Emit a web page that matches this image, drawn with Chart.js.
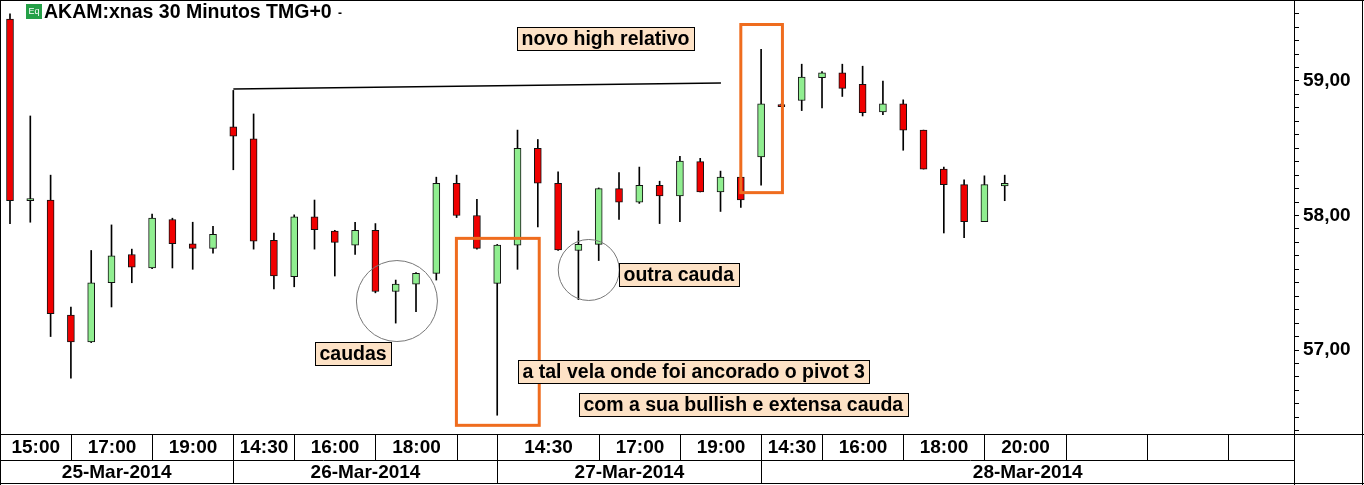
<!DOCTYPE html>
<html>
<head>
<meta charset="utf-8">
<script src="https://cdn.jsdelivr.net/npm/chart.js@4.4.1/dist/chart.umd.min.js"></script>
<style>
html, body { margin: 0; padding: 0; background: #fff; overflow: hidden; }
canvas { display: block; }
</style>
</head>
<body>
<canvas id="akamChart" width="1364" height="485"></canvas>
<script>
// AKAM:xnas, velas de 30 minutos, 25 a 28 de março de 2014
var opens  = [59.46, 58.11, 58.115, 57.26, 57.06, 57.50, 57.71, 57.61, 57.97, 57.79, 57.755,
              58.66, 58.57, 57.815, 57.545, 57.99, 57.885, 57.78, 57.89, 57.435, 57.49, 57.57, 58.24, 58.00,
              57.495, 57.78, 58.50, 58.24, 57.74, 57.785, 58.20, 58.10, 58.225, 58.145, 58.40, 58.175, 58.285,
              58.435, 58.825, 58.855, 59.025, 59.06, 58.975, 58.77, 58.83, 58.635, 58.345, 58.23, 57.955, 58.22];
var highs  = [59.50, 58.74, 58.30, 57.32, 57.74, 57.93, 57.75, 58.01, 57.98, 57.95, 57.92,
              58.93, 58.755, 57.87, 58.005, 58.115, 57.89, 57.95, 57.94, 57.52, 57.575, 58.285, 58.30, 58.12,
              57.785, 58.635, 58.565, 58.325, 57.885, 58.205, 58.32, 58.36, 58.255, 58.44, 58.425, 58.33, 58.29,
              59.235, 58.83, 59.125, 59.07, 59.125, 59.11, 59.00, 58.86, 58.635, 58.36, 58.265, 58.295, 58.30];
var lows   = [57.94, 57.95, 57.10, 56.79, 57.055, 57.32, 57.50, 57.605, 57.61, 57.60, 57.72,
              58.34, 57.75, 57.455, 57.47, 57.75, 57.55, 57.71, 57.425, 57.20, 57.285, 57.52, 57.985, 57.75,
              56.515, 57.60, 57.915, 57.74, 57.375, 57.665, 57.97, 58.09, 57.94, 57.955, 58.175, 58.03, 58.06,
              58.225, 58.81, 58.78, 58.80, 58.885, 58.74, 58.75, 58.485, 58.345, 57.87, 57.835, 57.955, 58.11];
var closes = [58.11, 58.125, 57.27, 57.06, 57.50, 57.70, 57.615, 57.98, 57.79, 57.755, 57.86,
              58.59, 57.81, 57.55, 57.99, 57.895, 57.80, 57.89, 57.435, 57.49, 57.57, 58.24, 58.00, 57.755,
              57.78, 58.50, 58.24, 57.745, 57.785, 58.20, 58.10, 58.225, 58.145, 58.405, 58.175, 58.285, 58.115,
              58.83, 58.81, 59.03, 59.06, 58.945, 58.765, 58.83, 58.635, 58.345, 58.23, 57.955, 58.23, 58.24];

// eixo do tempo: separadores (índice da vela) e rótulos de cada célula
var timeEdges  = [3, 7, 11, 14, 18, 22, 24, 29, 33, 37, 40, 44, 48, 52, 56, 60];
var timeLabels = ['15:00', '17:00', '19:00', '14:30', '16:00', '18:00', '', '14:30', '17:00', '19:00',
                  '14:30', '16:00', '18:00', '20:00', '', '', ''];
var dayEdges   = [11, 24, 37];
var dayLabels  = ['25-Mar-2014', '26-Mar-2014', '27-Mar-2014', '28-Mar-2014'];

// anotações (índice da vela, preço)
var notes = [
    { text: 'novo high relativo', i: 24.98, p: 59.401 },
    { text: 'caudas', i: 15.02, p: 57.06 },
    { text: 'outra cauda', i: 30.0, p: 57.647 },
    { text: 'a tal vela onde foi ancorado o pivot 3', i: 25.02, p: 56.929 },
    { text: 'com a sua bullish e extensa cauda', i: 28.03, p: 56.677 }
];
var orangeBoxes = [
    { i0: 21.99, p0: 57.83, i1: 26.07, p1: 56.44 },
    { i0: 36.0, p0: 59.42, i1: 38.05, p1: 58.17 }
];
var circles = [
    { i: 19.06, p: 57.364, r: 40.5 },
    { i: 28.51, p: 57.595, r: 30.5 }
];
var highLine = { i0: 11, p0: 58.94, i1: 35.02, p1: 58.985 };

var FONT = "'Liberation Sans', Arial, sans-serif";

var bodies = [], wicks = [], bodyColors = [];
for (var k = 0; k < opens.length; k++) {
    bodies.push({ x: k, y: [opens[k], closes[k]] });
    wicks.push({ x: k, y: [lows[k], highs[k]] });
    bodyColors.push(closes[k] >= opens[k] ? '#90ee90' : '#f00000');
}

var decor = {
    id: 'decor',
    afterDatasetsDraw: function(chart) {
        var ctx = chart.ctx, xs = chart.scales.x, ys = chart.scales.y;
        ctx.save();

        // linha do high
        ctx.strokeStyle = '#000';
        ctx.lineWidth = 1.5;
        ctx.beginPath();
        ctx.moveTo(xs.getPixelForValue(highLine.i0), ys.getPixelForValue(highLine.p0));
        ctx.lineTo(xs.getPixelForValue(highLine.i1), ys.getPixelForValue(highLine.p1));
        ctx.stroke();

        // círculos
        ctx.strokeStyle = '#777';
        ctx.lineWidth = 1;
        circles.forEach(function(c) {
            ctx.beginPath();
            ctx.arc(xs.getPixelForValue(c.i), ys.getPixelForValue(c.p), c.r, 0, Math.PI * 2);
            ctx.stroke();
        });

        // retângulos laranja
        ctx.strokeStyle = '#ef6c1e';
        ctx.lineWidth = 3;
        orangeBoxes.forEach(function(b) {
            var x0 = xs.getPixelForValue(b.i0), y0 = ys.getPixelForValue(b.p0);
            var x1 = xs.getPixelForValue(b.i1), y1 = ys.getPixelForValue(b.p1);
            ctx.strokeRect(x0, y0, x1 - x0, y1 - y0);
        });

        // caixas de texto
        ctx.font = 'bold 19.5px ' + FONT;
        ctx.textBaseline = 'middle';
        ctx.textAlign = 'left';
        notes.forEach(function(n) {
            var bx = Math.round(xs.getPixelForValue(n.i)) + 0.5;
            var by = Math.round(ys.getPixelForValue(n.p)) + 0.5;
            var w = Math.round(ctx.measureText(n.text).width) + 9;
            ctx.fillStyle = '#fde2c6';
            ctx.fillRect(bx, by, w, 23);
            ctx.strokeStyle = '#000';
            ctx.lineWidth = 1;
            ctx.strokeRect(bx, by, w, 23);
            ctx.fillStyle = '#000';
            ctx.fillText(n.text, bx + 4, by + 12.5);
        });
        ctx.restore();
    },
    afterDraw: function(chart) {
        var ctx = chart.ctx, xs = chart.scales.x, area = chart.chartArea;
        var W = chart.width, H = chart.height;
        var top = area.bottom, mid = area.bottom + 26, bot = H - 1;
        ctx.save();
        ctx.strokeStyle = '#000';
        ctx.lineWidth = 1;

        function line(x0, y0, x1, y1) {
            ctx.beginPath();
            ctx.moveTo(x0, y0);
            ctx.lineTo(x1, y1);
            ctx.stroke();
        }
        // moldura
        line(0, 0.5, W, 0.5);
        line(0.5, 0, 0.5, H);
        line(W - 1.5, 0, W - 1.5, H);
        line(0, top + 0.5, W, top + 0.5);
        line(0, mid + 0.5, area.right, mid + 0.5);
        line(0, bot - 0.5, W, bot - 0.5);
        line(area.right + 0.5, 0, area.right + 0.5, H);

        ctx.fillStyle = '#000';
        ctx.font = 'bold 19px ' + FONT;
        ctx.textAlign = 'center';
        ctx.textBaseline = 'middle';

        // linha das horas
        var edges = [area.left].concat(timeEdges.map(function(e) {
            return Math.round(xs.getPixelForValue(e)) + 0.5;
        })).concat([area.right]);
        for (var j = 1; j < edges.length - 1; j++) line(edges[j], top, edges[j], mid);
        for (j = 0; j < timeLabels.length; j++) {
            if (timeLabels[j]) ctx.fillText(timeLabels[j], (edges[j] + edges[j + 1]) / 2, top + 14);
        }

        // linha dos dias
        var dEdges = [area.left].concat(dayEdges.map(function(e) {
            return Math.round(xs.getPixelForValue(e)) + 0.5;
        })).concat([area.right]);
        for (j = 1; j < dEdges.length - 1; j++) line(dEdges[j], mid, dEdges[j], bot);
        for (j = 0; j < dayLabels.length; j++) {
            ctx.fillText(dayLabels[j], (dEdges[j] + dEdges[j + 1]) / 2, mid + 13);
        }

        // título
        ctx.fillStyle = '#24a047';
        ctx.fillRect(26, 4, 16, 15);
        ctx.fillStyle = '#fff';
        ctx.font = '9px ' + FONT;
        ctx.fillText('Eq', 34, 11.5);
        ctx.fillStyle = '#000';
        ctx.textAlign = 'left';
        ctx.font = 'bold 19.5px ' + FONT;
        ctx.fillText('AKAM:xnas 30 Minutos TMG+0', 44, 13);
        ctx.font = 'bold 12px ' + FONT;
        ctx.fillText('-', 338, 14);
        ctx.restore();
    }
};

new Chart(document.getElementById('akamChart').getContext('2d'), {
    type: 'bar',
    data: {
        datasets: [{
            label: 'corpo',
            data: bodies,
            backgroundColor: bodyColors,
            borderColor: '#111',
            borderWidth: 1,
            borderSkipped: false,
            barThickness: 7,
            grouped: false,
            order: 0
        }, {
            label: 'pavio',
            data: wicks,
            backgroundColor: '#000',
            borderWidth: 0,
            barThickness: 1,
            grouped: false,
            order: 1
        }]
    },
    options: {
        responsive: false,
        animation: false,
        devicePixelRatio: 1,
        layout: { padding: { top: 0, left: 0, right: 0, bottom: 51 } },
        plugins: {
            legend: { display: false },
            tooltip: { enabled: false }
        },
        scales: {
            x: {
                type: 'linear',
                display: false,
                offset: false,
                min: -0.4926,
                max: 63.25
            },
            y: {
                position: 'right',
                min: 56.3755,
                max: 59.6022,
                afterFit: function(scale) {
                    scale.width = 70;
                    scale.paddingTop = 0;
                    scale.paddingBottom = 0;
                },
                border: { display: true, color: '#000', width: 1 },
                grid: { drawOnChartArea: false, drawTicks: true, tickLength: 5, color: '#000' },
                ticks: {
                    stepSize: 0.1,
                    autoSkip: false,
                    includeBounds: false,
                    padding: 4,
                    color: '#000',
                    font: { family: FONT, size: 19, weight: 'bold' },
                    callback: function(v) {
                        return Math.abs(v - Math.round(v)) < 1e-6 ? Math.round(v) + ',00' : '';
                    }
                }
            }
        }
    },
    plugins: [decor]
});
</script>
</body>
</html>
